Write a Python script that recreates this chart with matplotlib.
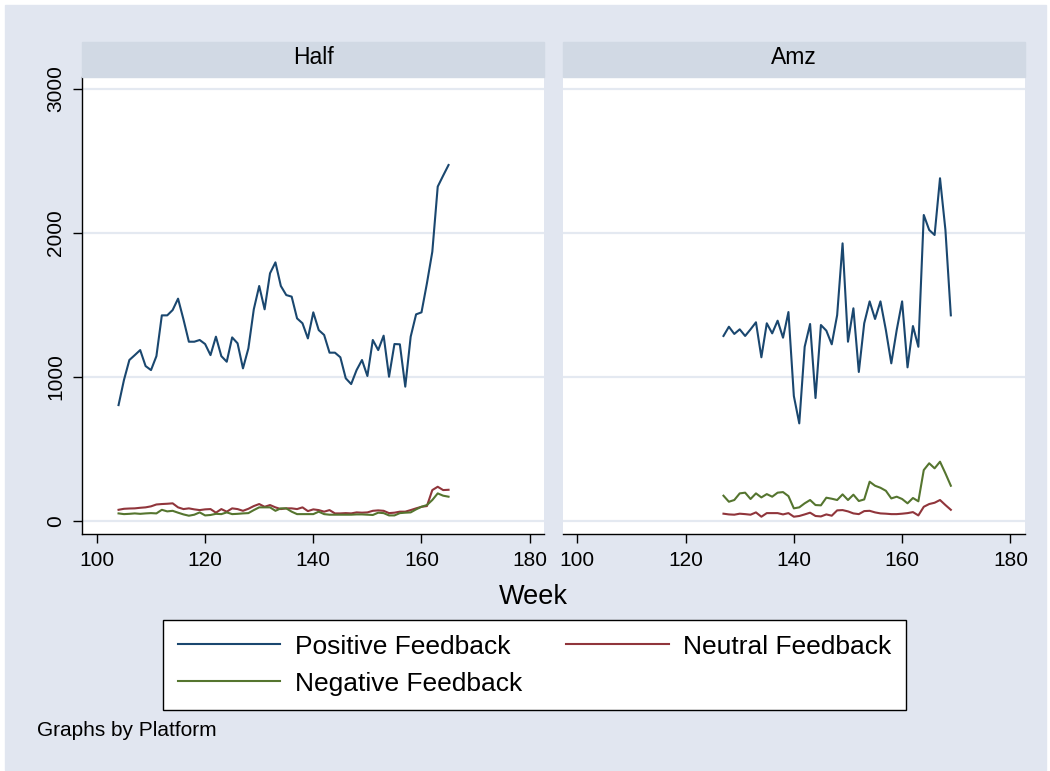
import numpy as np
import matplotlib.pyplot as plt
from matplotlib.patches import Rectangle

plt.rcParams['font.family'] = ['Liberation Sans', 'DejaVu Sans']

# Weekly feedback counts by platform
half_weeks = list(range(104, 166))
half_pos = [803, 977, 1116, 1150, 1185, 1074, 1046, 1143, 1426, 1426,
            1463, 1542, 1398, 1243, 1243, 1255, 1227, 1150, 1278, 1143,
            1104, 1273, 1232, 1058, 1197, 1468, 1630, 1468, 1718, 1794,
            1630, 1567, 1556, 1405, 1371, 1266, 1447, 1324, 1290, 1167,
            1167, 1135, 989, 949, 1046, 1116, 1005, 1255, 1185, 1285,
            1000, 1227, 1225, 931, 1278, 1433, 1447, 1648, 1868, 2320,
            2396, 2470]
half_neu = [76, 83, 85, 86, 90, 93, 100, 113, 116, 118,
            121, 93, 81, 86, 79, 74, 79, 81, 56, 81,
            63, 86, 81, 69, 83, 102, 116, 97, 109, 93,
            81, 86, 86, 81, 93, 67, 79, 74, 63, 74,
            51, 51, 53, 51, 58, 56, 58, 69, 72, 69,
            53, 56, 63, 63, 74, 86, 97, 102, 213, 236,
            213, 215]
half_neg = [51, 46, 48, 51, 48, 51, 53, 51, 76, 65,
            69, 56, 44, 35, 42, 58, 37, 40, 48, 46,
            58, 46, 48, 51, 53, 74, 93, 93, 93, 69,
            86, 86, 63, 46, 46, 46, 46, 63, 46, 42,
            42, 42, 42, 42, 44, 44, 42, 40, 56, 53,
            37, 37, 53, 56, 58, 79, 97, 109, 144, 190,
            174, 167]

amz_weeks = list(range(127, 170))
amz_pos = [1283, 1347, 1297, 1329, 1283, 1329, 1378, 1135, 1371, 1301,
           1389, 1271, 1449, 866, 676, 1208, 1366, 852, 1359, 1320,
           1225, 1428, 1926, 1243, 1475, 1033, 1371, 1523, 1401, 1523,
           1324, 1093, 1324, 1523, 1065, 1352, 1208, 2123, 2019, 1984,
           2378, 2019, 1426]
amz_neu = [49, 44, 42, 49, 46, 42, 58, 28, 53, 53,
           53, 44, 53, 28, 33, 44, 56, 33, 30, 44,
           35, 72, 74, 65, 51, 46, 67, 69, 58, 51,
           49, 46, 46, 49, 53, 60, 37, 97, 116, 125,
           144, 109, 76]
amz_neg = [174, 132, 144, 190, 195, 151, 190, 162, 185, 167,
           195, 199, 171, 86, 93, 121, 144, 109, 107, 160,
           153, 144, 183, 144, 181, 137, 148, 271, 243, 229,
           208, 155, 167, 151, 121, 158, 135, 352, 399, 364,
           410, 329, 243]

panels = [("Half", half_weeks, half_pos, half_neu, half_neg),
          ("Amz", amz_weeks, amz_pos, amz_neu, amz_neg)]

c_pos = '#1a476f'
c_neu = '#90353b'
c_neg = '#55752f'
bg = '#e1e6f0'
strip = '#d1d9e4'
grid = '#e4e9f1'

W, H = 1050, 771
fig = plt.figure(figsize=(W / 100, H / 100), dpi=100, facecolor='white')

def fx(px):
    return px / W

def fy(py):
    return 1 - py / H

# graph region background
fig.add_artist(Rectangle((fx(5), fy(770)), fx(1041), 765 / H,
                         transform=fig.transFigure, color=bg, zorder=0))

lefts = [82.3, 562.7]
right_w = [462.0, 462.3]
top, bottom = 77, 534

axes = []
for i, (name, weeks, pos, neu, neg) in enumerate(panels):
    ax = fig.add_axes([fx(lefts[i]), fy(bottom), fx(right_w[i]), (bottom - top) / H])
    ax.set_facecolor('white')
    l1, = ax.plot(weeks, pos, color=c_pos, lw=1.5, label='Positive Feedback')
    l2, = ax.plot(weeks, neu, color=c_neu, lw=1.5, label='Neutral Feedback')
    l3, = ax.plot(weeks, neg, color=c_neg, lw=1.5, label='Negative Feedback')
    ax.set_xlim(97.3, 182.7)
    ax.set_ylim(-92, 3081)
    ax.set_xticks([100, 120, 140, 160, 180])
    ax.set_yticks([0, 1000, 2000, 3000])
    for g in [0, 1000, 2000, 3000]:
        ax.axhline(g, color=grid, lw=1.6, zorder=0)
    ax.spines['top'].set_visible(False)
    ax.spines['right'].set_visible(False)
    ax.spines['bottom'].set_linewidth(1.0)
    ax.tick_params(axis='both', direction='out', length=6.5, width=1.0,
                   labelsize=15, pad=6)
    if i == 0:
        ax.spines['left'].set_linewidth(1.0)
        for lab in ax.get_yticklabels():
            lab.set_rotation(90)
            lab.set_va('center')
    else:
        ax.spines['left'].set_visible(False)
        ax.tick_params(axis='y', left=False, labelleft=False)
    # strip header
    fig.add_artist(Rectangle((fx(lefts[i]), fy(top)), fx(right_w[i]), 35 / H,
                             transform=fig.transFigure, color=strip, zorder=1))
    fig.text(fx(lefts[i] + right_w[i] / 2), fy(58), name, ha='center',
             va='center', fontsize=16.5)
    axes.append(ax)
    handles = [l1, l3, l2]

fig.text(fx(533), fy(597), 'Week', ha='center', va='center', fontsize=19.5)

leg = fig.legend(handles=handles, labels=[h.get_label() for h in handles],
                 loc='upper left', bbox_to_anchor=(fx(163), fy(620)),
                 ncol=2, fontsize=19, frameon=True, fancybox=False,
                 framealpha=1, edgecolor='black', handlelength=3.9,
                 handletextpad=0.55, columnspacing=1.65, labelspacing=0.5,
                 borderpad=0.55, borderaxespad=0)
leg.get_frame().set_linewidth(1.0)
for line in leg.get_lines():
    line.set_linewidth(1.5)

fig.text(fx(37), fy(731), 'Graphs by Platform', ha='left', va='center', fontsize=15)

fig.savefig('out.png', dpi=100, facecolor='white')
